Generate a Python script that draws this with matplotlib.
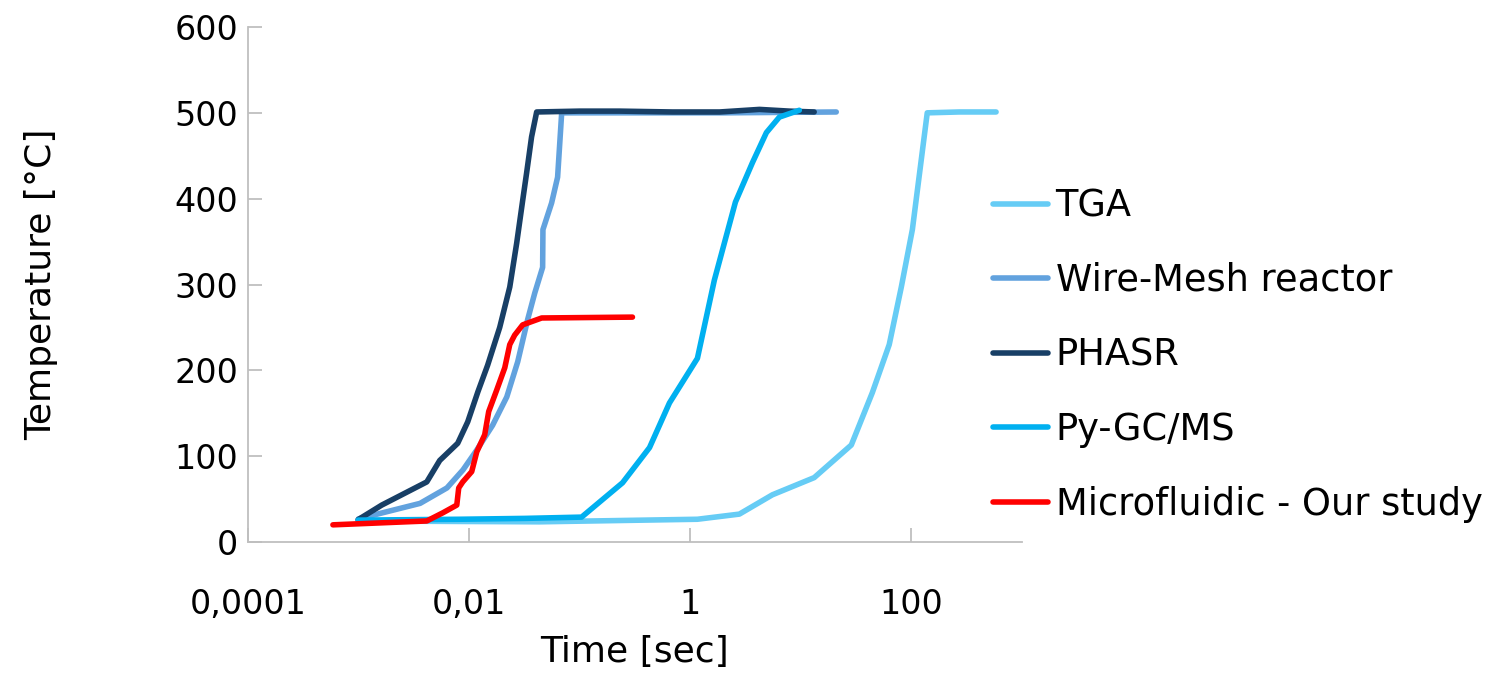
import matplotlib.pyplot as plt

# TGA
tga_t = [0.001, 0.043, 1.16, 2.78, 5.53, 13.2, 28.6, 44.3, 63, 81, 102, 139, 270, 583]
tga_T = [24.5, 23.5, 26.5, 32.5, 55, 75, 113, 174, 230, 297, 364, 500, 501, 501]

# Wire-Mesh reactor
wire_t = [0.001, 0.0036, 0.0063, 0.0088, 0.0117, 0.0163, 0.0219, 0.0275, 0.0338,
          0.0392, 0.0462, 0.0465, 0.0557, 0.0631, 0.0687, 0.3, 2.0, 20.9]
wire_T = [27, 45, 63, 84, 107, 136, 169, 210, 259, 290, 320, 364, 395, 425, 500, 500, 500, 501]

# PHASR
phasr_t = [0.00099, 0.00162, 0.00414, 0.00542, 0.00788, 0.00971, 0.0120, 0.0147, 0.0189,
           0.0233, 0.0269, 0.0305, 0.0331, 0.0367, 0.0408, 0.0998, 0.229, 0.69, 1.84,
           4.22, 7.87, 13.2]
phasr_T = [26, 43, 70, 95, 115, 140, 175, 206, 250, 297, 348, 398, 430, 472, 501, 502,
           502, 501, 501, 504, 502, 501]

# Py-GC/MS
py_t = [0.00099, 0.0082, 0.0318, 0.104, 0.244, 0.428, 0.648, 1.16, 1.65, 2.56, 3.65,
        4.88, 6.39, 9.68]
py_T = [25.5, 26.5, 27.5, 29, 69, 110, 162, 214, 305, 396, 442, 477, 495, 503]

# Microfluidic - Our study
micro_t = [0.000586, 0.00414, 0.00578, 0.00773, 0.00805, 0.00875, 0.01055, 0.01172,
           0.01383, 0.01503, 0.01775, 0.0210, 0.0233, 0.0258, 0.0305, 0.0453, 0.30]
micro_T = [20, 24.5, 34, 43, 63, 70, 82, 105, 125, 152, 177, 203, 230, 241, 253, 261, 262]

x_ticks = [1e-4, 1e-2, 1, 100]
x_tick_labels = ['0,0001', '0,01', '1', '100']
y_ticks = [0, 100, 200, 300, 400, 500, 600]

plt.rcParams['font.family'] = ['DejaVu Sans']

fig = plt.figure(figsize=(14.93, 6.75), dpi=100)
ax = fig.add_axes([248 / 1493, 1 - 542 / 675, (1022 - 248) / 1493, (542 - 27) / 675])

series = [
    (tga_t, tga_T, 'TGA', '#66CCF5'),
    (wire_t, wire_T, 'Wire-Mesh reactor', '#62A2DE'),
    (phasr_t, phasr_T, 'PHASR', '#183F66'),
    (py_t, py_T, 'Py-GC/MS', '#00B0F0'),
    (micro_t, micro_T, 'Microfluidic - Our study', '#FF0000'),
]
for t, T, name, col in series:
    ax.plot(t, T, color=col, lw=4, label=name,
            solid_capstyle='round', solid_joinstyle='round')

ax.set_xscale('log')
ax.set_xlim(1e-4, 1000)
ax.set_ylim(0, 600)
ax.set_xticks(x_ticks)
ax.set_xticklabels(x_tick_labels)
ax.minorticks_off()
ax.set_yticks(y_ticks)

for side in ['top', 'right']:
    ax.spines[side].set_visible(False)
for side in ['left', 'bottom']:
    ax.spines[side].set_color('#BFBFBF')
    ax.spines[side].set_linewidth(1.3)

ax.tick_params(axis='both', direction='in', length=10, width=1.3, color='#BFBFBF',
               labelsize=24, labelcolor='black')
ax.tick_params(axis='x', pad=33)
ax.tick_params(axis='y', pad=7)

ax.set_xlabel('Time [sec]', fontsize=26, labelpad=10)
ax.set_ylabel('Temperature [°C]', fontsize=26)
ax.yaxis.set_label_coords((58 - 248) / 774, 0.5)

fig.legend(loc='center left', bbox_to_anchor=(993 / 1493, 1 - 355 / 675),
           frameon=False, fontsize=26.5, handlelength=1.5, handletextpad=0.2,
           labelspacing=1.02, borderpad=0, borderaxespad=0)

fig.savefig('out.png', dpi=100)
